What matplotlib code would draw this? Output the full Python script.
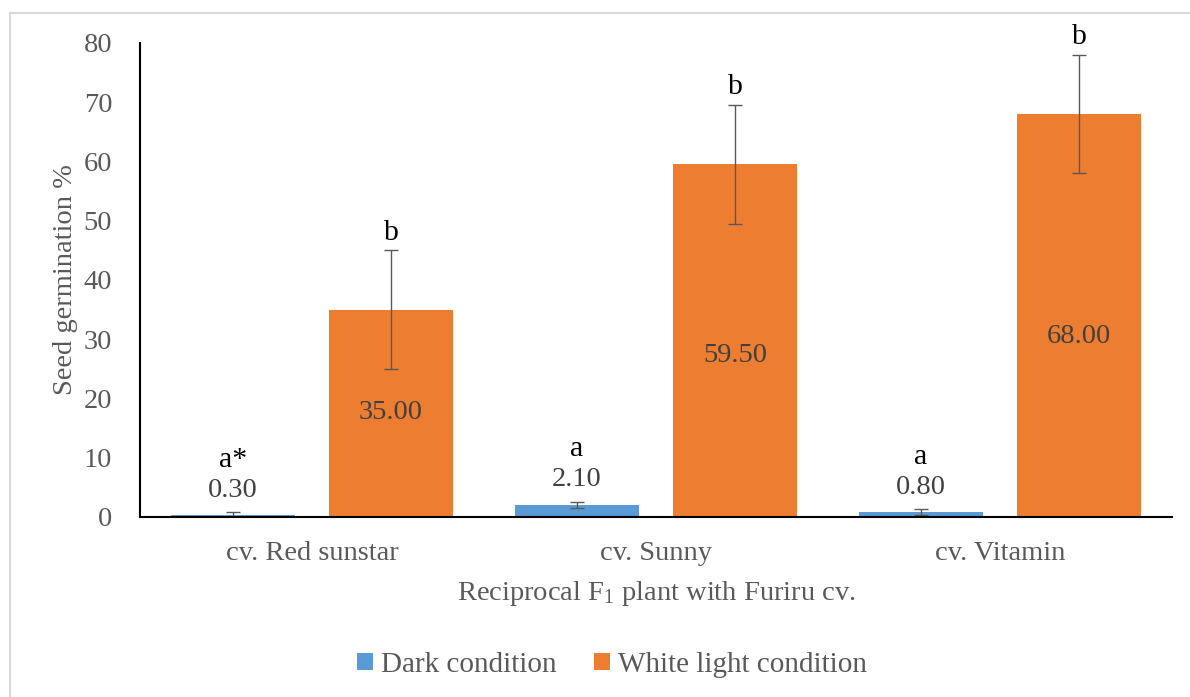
import matplotlib
matplotlib.use("Agg")
import matplotlib.pyplot as plt
import numpy as np
from matplotlib.patches import Rectangle

plt.rcParams['font.family'] = ['Liberation Serif', 'DejaVu Serif']
plt.rcParams['mathtext.fontset'] = 'custom'
plt.rcParams['mathtext.rm'] = 'Liberation Serif'
plt.rcParams['mathtext.it'] = 'Liberation Serif:italic'

categories = ["cv. Red sunstar", "cv. Sunny", "cv. Vitamin"]
dark = [0.30, 2.10, 0.80]
dark_err = [0.5, 0.5, 0.5]
light = [35.00, 59.50, 68.00]
light_err = [10.0, 10.0, 10.0]
dark_letters = ["a*", "a", "a"]
light_letters = ["b", "b", "b"]
yticks = [0, 10, 20, 30, 40, 50, 60, 70, 80]

BLUE = "#5B9BD5"
ORANGE = "#ED7D31"
GREY = "#595959"
FS = 20.5

fig = plt.figure(figsize=(11.9, 6.97), dpi=100)
W, H = 1190, 697
# outer chart frame
fig.patches.append(Rectangle((9.5 / W, -0.05), 1.1, (H - 13) / H + 0.05,
                             transform=fig.transFigure, fill=False,
                             edgecolor="#d9d9d9", linewidth=1.5))
ax = fig.add_axes([140 / W, 1 - 517 / H, (1172 - 140) / W, (517 - 43) / H])

x = np.arange(len(categories))
bw = 0.36
off = 0.23
ax.bar(x - off, dark, bw, color=BLUE, label="Dark condition")
ax.bar(x + off, light, bw, color=ORANGE, label="White light condition")
ax.errorbar(x - off, dark, yerr=dark_err, fmt="none", ecolor=GREY,
            elinewidth=1, capsize=4.7, capthick=1)
ax.errorbar(x + off, light, yerr=light_err, fmt="none", ecolor=GREY,
            elinewidth=1, capsize=4.7, capthick=1)

for i in range(len(categories)):
    top_d = dark[i] + dark_err[i]
    ax.text(x[i] - off, top_d + 3.7, f"{dark[i]:.2f}", ha="center", va="center",
            fontsize=FS, color="#404040")
    ax.text(x[i] - off, top_d + 8.9, dark_letters[i], ha="center", va="center",
            fontsize=FS + 1, color="black", clip_on=False)
    top_l = light[i] + light_err[i]
    ax.text(x[i] + off, light[i] * 0.388 + 4.1, f"{light[i]:.2f}", ha="center",
            va="center", fontsize=FS, color="#404040")
    ax.text(x[i] + off, top_l + 3.0, light_letters[i], ha="center", va="center",
            fontsize=FS + 1, color="black", clip_on=False)

ax.set_xlim(-0.5, len(categories) - 0.5)
ax.set_ylim(0, 80)
ax.set_yticks(yticks)
ax.set_xticks(x)
ax.set_xticklabels(categories)
ax.tick_params(axis="both", length=0, labelsize=FS, labelcolor=GREY)
ax.tick_params(axis="y", pad=20)
ax.tick_params(axis="x", pad=17)
for s in ["top", "right"]:
    ax.spines[s].set_visible(False)
for s in ["left", "bottom"]:
    ax.spines[s].set_color("black")
    ax.spines[s].set_linewidth(1.5)

ax.set_ylabel("Seed germination %", fontsize=FS, color=GREY, labelpad=4)
ax.set_xlabel("Reciprocal F$_1$ plant with Furiru cv.", fontsize=FS,
              color=GREY, labelpad=10)

leg = fig.legend(loc="center", bbox_to_anchor=(612 / W, 1 - 665 / H), ncol=2,
                 frameon=False, fontsize=FS + 0.5, handlelength=0.55,
                 handleheight=0.55, handletextpad=0.25, columnspacing=1.3)
for t in leg.get_texts():
    t.set_color(GREY)

fig.savefig("out.png", dpi=100)
